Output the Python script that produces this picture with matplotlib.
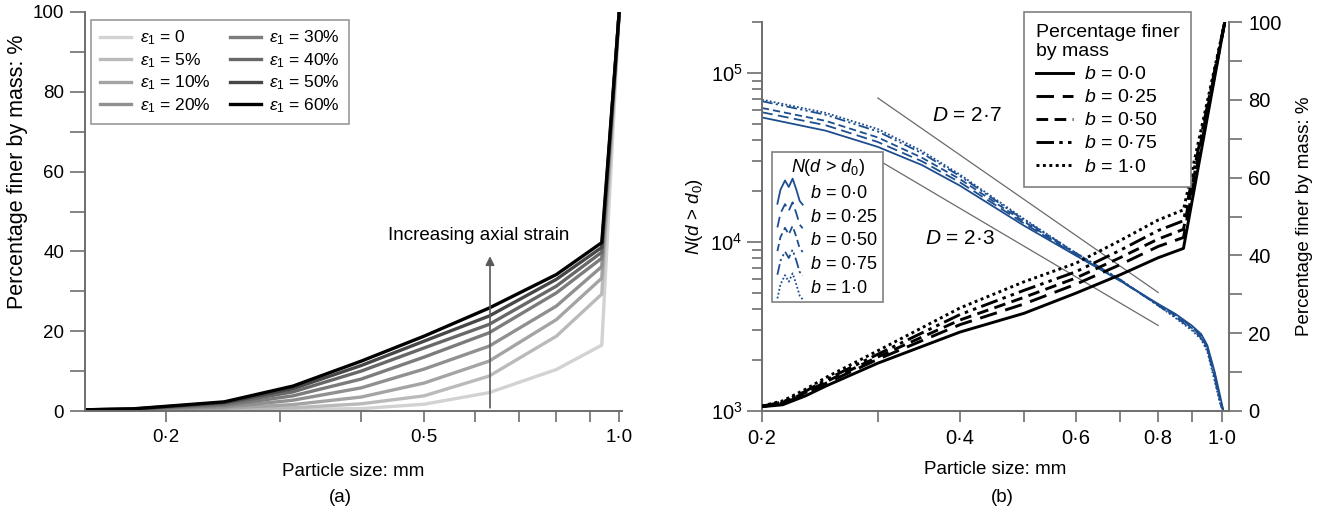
import numpy as np
import matplotlib
matplotlib.use("Agg")
import matplotlib.pyplot as plt
from matplotlib.legend_handler import HandlerLine2D
from matplotlib.lines import Line2D
from matplotlib.ticker import FixedLocator, FixedFormatter, NullFormatter, LogLocator

plt.rcParams['font.family'] = ['Liberation Sans', 'DejaVu Sans']
plt.rcParams['mathtext.fontset'] = 'custom'
plt.rcParams['mathtext.rm'] = 'Liberation Sans'
plt.rcParams['mathtext.it'] = 'Liberation Sans:italic'
plt.rcParams['mathtext.bf'] = 'Liberation Sans:bold'

# ---------------- Panel (a) data ----------------
sizes_a = [0.15, 0.178, 0.246, 0.314, 0.4, 0.5, 0.63, 0.8, 0.94, 1.0]
strain_labels = ['0', '5%', '10%', '20%', '30%', '40%', '50%', '60%']
finer_e0 = [0.3, 0.3, 0.35, 0.4, 0.6, 1.7, 4.6, 10.4, 16.5, 100]
finer_e5 = [0.3, 0.3, 0.5, 0.8, 1.8, 3.8, 8.75, 18.75, 29.3, 100]
finer_e10 = [0.3, 0.3, 0.7, 1.6, 3.5, 7.0, 12.5, 22.9, 33.3, 100]
finer_e20 = [0.3, 0.35, 1.0, 2.7, 5.8, 10.5, 16.25, 26.3, 36.2, 100]
finer_e30 = [0.3, 0.4, 1.4, 3.8, 8.0, 13.5, 19.6, 29.6, 38.3, 100]
finer_e40 = [0.3, 0.45, 1.8, 4.8, 10.0, 15.8, 21.7, 31.3, 39.8, 100]
finer_e50 = [0.3, 0.5, 2.1, 5.6, 11.4, 17.5, 23.8, 33.0, 41.0, 100]
finer_e60 = [0.3, 0.55, 2.3, 6.25, 12.5, 18.75, 25.8, 34.2, 42.2, 100]
finer_a = [finer_e0, finer_e5, finer_e10, finer_e20, finer_e30, finer_e40, finer_e50, finer_e60]
gray_colors = ['#d2d2d2', '#bababa', '#a4a4a4', '#909090', '#7c7c7c', '#686868', '#474747', '#000000']

# ---------------- Panel (b) data ----------------
b_labels = ['0·0', '0·25', '0·50', '0·75', '1·0']
sizes_N = [0.2, 0.25, 0.3, 0.35, 0.4, 0.5, 0.6, 0.7, 0.8, 0.85, 0.9, 0.93, 0.95, 0.975, 0.995, 1.005]
N_b0 = [5.45e4, 4.55e4, 3.65e4, 2.85e4, 2.15e4, 1.25e4, 8.3e3, 5.9e3, 4.3e3, 3.75e3, 3.2e3, 2.85e3, 2.45e3, 1.7e3, 1.2e3, 1.0e3]
N_b25 = [5.85e4, 4.9e4, 3.9e4, 3.0e4, 2.25e4, 1.29e4, 8.4e3, 5.9e3, 4.25e3, 3.7e3, 3.15e3, 2.8e3, 2.4e3, 1.65e3, 1.15e3, 1.0e3]
N_b50 = [6.2e4, 5.2e4, 4.15e4, 3.15e4, 2.35e4, 1.32e4, 8.5e3, 5.95e3, 4.25e3, 3.65e3, 3.1e3, 2.75e3, 2.35e3, 1.6e3, 1.12e3, 1.0e3]
N_b75 = [6.8e4, 5.65e4, 4.5e4, 3.35e4, 2.45e4, 1.35e4, 8.6e3, 6.0e3, 4.2e3, 3.6e3, 3.05e3, 2.7e3, 2.3e3, 1.55e3, 1.1e3, 1.0e3]
N_b100 = [6.95e4, 5.8e4, 4.65e4, 3.45e4, 2.5e4, 1.37e4, 8.6e3, 6.0e3, 4.2e3, 3.55e3, 3.0e3, 2.65e3, 2.25e3, 1.5e3, 1.08e3, 1.0e3]
N_curves = [N_b0, N_b25, N_b50, N_b75, N_b100]

sizes_P = [0.2, 0.215, 0.233, 0.25, 0.3, 0.4, 0.5, 0.6, 0.7, 0.8, 0.874, 1.01]
P_b0 = [1.1, 1.6, 3.9, 6.4, 12.3, 20.3, 25.1, 30.3, 35.0, 39.4, 41.8, 100]
P_b25 = [1.15, 1.9, 4.4, 7.1, 13.3, 22.2, 27.5, 32.6, 37.6, 42.3, 44.6, 100]
P_b50 = [1.2, 2.1, 4.75, 7.5, 13.9, 23.4, 29.2, 34.2, 39.4, 44.2, 46.7, 100]
P_b75 = [1.25, 2.3, 5.1, 8.0, 14.6, 24.8, 31.0, 35.8, 41.3, 46.4, 48.9, 100]
P_b100 = [1.3, 2.6, 5.6, 8.6, 15.5, 26.5, 33.2, 38.0, 43.8, 49.1, 51.7, 100]
P_curves = [P_b0, P_b25, P_b50, P_b75, P_b100]

fractal_D = [2.7, 2.3]
fractal_anchor = [7.1e4, 3.06e4]   # N at d = 0.3 mm
fractal_range = [0.3, 0.8]

line_styles = ['-', (0, (6, 3)), (0, (4, 2.2)), (0, (6, 1.8, 1.2, 1.8, 1.2, 1.8)), (0, (1, 1.2))]
blue = '#1d4e8f'
spine_gray = '#6e6e6e'

fig = plt.figure(figsize=(13.18, 5.17), dpi=100)

# ================= Panel (a) =================
ax = fig.add_axes([85/1318, 106/517, 537/1318, 399/517])
for vals, col, lab in zip(finer_a, gray_colors, strain_labels):
    ax.plot(sizes_a, vals, color=col, lw=2.4, label=r'$\varepsilon_1$ = ' + lab,
            solid_joinstyle='round')
ax.set_xscale('log')
ax.set_xlim(0.15, 1.01)
ax.set_ylim(0, 100)
ax.xaxis.set_major_locator(FixedLocator([0.2, 0.5, 1.0]))
ax.xaxis.set_major_formatter(FixedFormatter(['0·2', '0·5', '1·0']))
ax.xaxis.set_minor_locator(FixedLocator([0.3, 0.4, 0.6, 0.7, 0.8, 0.9]))
ax.xaxis.set_minor_formatter(NullFormatter())
ax.yaxis.set_major_locator(FixedLocator([0, 20, 40, 60, 80, 100]))
ax.yaxis.set_minor_locator(FixedLocator([10, 30, 50, 70, 90]))
for s in ['top', 'right']:
    ax.spines[s].set_visible(False)
for s in ['left', 'bottom']:
    ax.spines[s].set_color(spine_gray)
    ax.spines[s].set_linewidth(1.4)
ax.tick_params(axis='both', which='both', direction='out', color=spine_gray, width=1.2,
               labelsize=13.5)
ax.tick_params(axis='x', which='both', length=8, pad=5)
ax.tick_params(axis='y', which='both', length=11, pad=4)
ax.set_xlabel('Particle size: mm', fontsize=13.5, labelpad=12)
ax.set_ylabel('Percentage finer by mass: %', fontsize=15.5)
ax.yaxis.set_label_coords(-0.106, 0.6)
ax.annotate('', xy=(0.632, 38.8), xytext=(0.632, 0.8),
            arrowprops=dict(arrowstyle='-|>', color='#5a5a5a', lw=1.2, mutation_scale=13,
                            shrinkA=0, shrinkB=0))
ax.text(0.607, 44, 'Increasing axial strain', ha='center', va='center', fontsize=13.5)
leg_a = ax.legend(loc='upper left', bbox_to_anchor=(91/1318, 1 - 20/517),
                  bbox_transform=fig.transFigure, ncol=2, fontsize=12.5, frameon=True,
                  fancybox=False, edgecolor='#808080', handlelength=1.8, handletextpad=0.5,
                  columnspacing=1.1, labelspacing=0.22, borderpad=0.5, borderaxespad=0)
leg_a.get_frame().set_linewidth(1.2)
fig.text(0.5*(85+622)/1318 - 0.01, 1 - 497/517, '(a)', ha='center', va='center', fontsize=13.5)

# ================= Panel (b) =================
bx = fig.add_axes([762/1318, 106/517, 467/1318, 389/517])
cx = bx.twinx()
bx.set_xscale('log')
bx.set_yscale('log')
bx.set_xlim(0.2, 1.025)
bx.set_ylim(1e3, 2.0e5)
for vals, ls, lab in zip(N_curves, line_styles, b_labels):
    bx.plot(sizes_N, vals, color=blue, lw=1.3, ls=ls, label=r'$b$ = ' + lab)
for Dv, anchor in zip(fractal_D, fractal_anchor):
    xs = np.array(fractal_range)
    bx.plot(xs, anchor * (xs / fractal_range[0]) ** (-Dv), color='#6a6a6a', lw=0.9)
bx.text(0.41, 5.6e4, r'$D$ = 2·7', ha='center', va='center', fontsize=15)
bx.text(0.40, 1.05e4, r'$D$ = 2·3', ha='center', va='center', fontsize=15)

cx.set_ylim(0, 100)
for vals, ls, lab in zip(P_curves, line_styles, b_labels):
    cx.plot(sizes_P, vals, color='black', lw=2.1, ls=ls, label=r'$b$ = ' + lab)
cx.yaxis.set_major_locator(FixedLocator([0, 20, 40, 60, 80, 100]))
cx.yaxis.set_minor_locator(FixedLocator([10, 30, 50, 70, 90]))
for s in ['top', 'left', 'bottom']:
    cx.spines[s].set_visible(False)
cx.spines['right'].set_color(spine_gray)
cx.spines['right'].set_linewidth(1.4)
cx.tick_params(axis='y', which='both', direction='out', color=spine_gray, width=1.2,
               length=9, labelsize=14.5, pad=5)
cx.set_ylabel('Percentage finer by mass: %', fontsize=13.5, labelpad=10)

bx.set_xlim(0.2, 1.025)
bx.xaxis.set_major_locator(FixedLocator([0.2, 0.4, 0.6, 0.8, 1.0]))
bx.xaxis.set_major_formatter(FixedFormatter(['0·2', '0·4', '0·6', '0·8', '1·0']))
bx.xaxis.set_minor_locator(FixedLocator([0.3, 0.5, 0.7, 0.9]))
bx.xaxis.set_minor_formatter(NullFormatter())
bx.yaxis.set_major_locator(FixedLocator([1e3, 1e4, 1e5]))
bx.yaxis.set_major_formatter(FixedFormatter([r'$10^3$', r'$10^4$', r'$10^5$']))
bx.yaxis.set_minor_locator(LogLocator(base=10, subs=np.arange(2, 10), numticks=20))
bx.yaxis.set_minor_formatter(NullFormatter())
bx.spines['top'].set_visible(False)
bx.spines['right'].set_visible(False)
for s in ['left', 'bottom']:
    bx.spines[s].set_color(spine_gray)
    bx.spines[s].set_linewidth(1.4)
bx.tick_params(axis='both', which='both', direction='out', color=spine_gray, width=1.2,
               labelsize=14.5)
bx.tick_params(axis='x', which='both', length=8, pad=5)
bx.tick_params(axis='y', which='major', length=11, pad=3)
bx.tick_params(axis='y', which='minor', length=7)
bx.set_xlabel('Particle size: mm', fontsize=13.5, labelpad=9)
bx.set_ylabel(r'$N$($d$ > $d_0$)', fontsize=13.5, labelpad=4)


class SquiggleHandler(HandlerLine2D):
    def create_artists(self, legend, orig_handle, xdescent, ydescent, width, height,
                       fontsize, trans):
        fx = np.array([0.0, 0.12, 0.3, 0.45, 0.6, 0.75, 0.88, 1.0])
        fy = np.array([-0.2, 0.55, 1.05, 0.7, 1.15, 0.55, -0.05, -0.25])
        x = -xdescent + fx * width
        y = -ydescent + fy * height * 1.15
        line = Line2D(x, y)
        self.update_prop(line, orig_handle, legend)
        line.set_transform(trans)
        return [line]


hN = [Line2D([], [], color=blue, lw=1.3, ls=ls) for ls in line_styles]
leg_N = bx.legend(hN, [r'$b$ = ' + l for l in b_labels], loc='upper left',
                  bbox_to_anchor=(772/1318, 1 - 152/517), bbox_transform=fig.transFigure,
                  title=r'$N$($d$ > $d_0$)', title_fontsize=13, fontsize=13,
                  fancybox=False, edgecolor='#808080', framealpha=1,
                  handler_map={Line2D: SquiggleHandler()}, handlelength=1.4,
                  handleheight=1.0, handletextpad=0.4, labelspacing=0.3,
                  borderpad=0.3, borderaxespad=0)
leg_N.get_frame().set_linewidth(1.2)
leg_N.set_zorder(10)

leg_P = cx.legend(loc='upper left', bbox_to_anchor=(1024/1318, 1 - 12/517),
                  bbox_transform=fig.transFigure, title='Percentage finer\nby mass',
                  title_fontsize=14, fontsize=14, alignment='left', fancybox=False,
                  edgecolor='#808080', framealpha=1, handlelength=1.9, handletextpad=0.6,
                  labelspacing=0.28, borderpad=0.6, borderaxespad=0)
leg_P.get_frame().set_linewidth(1.2)

fig.text(0.5*(762+1229)/1318 + 0.005, 1 - 497/517, '(b)', ha='center', va='center',
         fontsize=13.5)

fig.savefig('out.png', dpi=100)
